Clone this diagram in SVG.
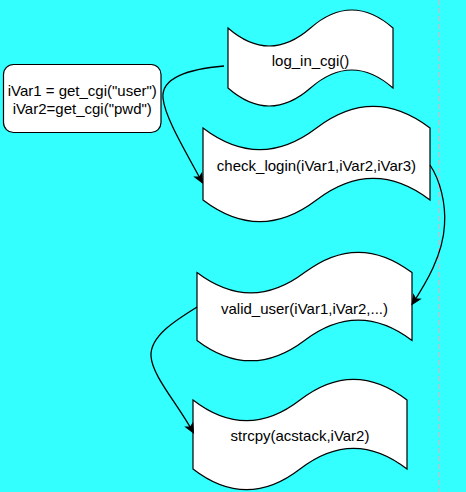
<svg xmlns="http://www.w3.org/2000/svg" width="466" height="492" viewBox="0 0 466 492">
<defs>
<marker id="arr" markerUnits="userSpaceOnUse" markerWidth="10" markerHeight="9" refX="9" refY="4" orient="auto" overflow="visible">
<path d="M0,0 L9,4 L0,8 L2.25,4 Z" fill="#000" stroke="#000" stroke-width="1"/>
</marker>
<style>
.tape{fill:#fff;stroke:#000;stroke-width:1.2;}
.box{fill:#fff;stroke:#000;stroke-width:1.2;}
.lbl{font-family:"Liberation Sans",Arial,sans-serif;font-size:15px;fill:#000;text-anchor:middle;}
.edge{fill:none;stroke:#000;stroke-width:1.3;marker-end:url(#arr);}
</style>
</defs>
<rect x="0" y="0" width="466" height="492" fill="#33ffff"/>
<line x1="438.5" y1="0" x2="438.5" y2="492" stroke="#f0a8b8" stroke-width="1" stroke-dasharray="5 3"/>
<g id="node-login">
<path class="tape" d="M228,28 Q269.25,64 310.5,28 Q351.75,-8 393,28 L393,88 Q351.75,52 310.5,88 Q269.25,124 228,88 Z"/>
<text class="lbl" x="310.5" y="65.5">log_in_cgi()</text>
</g>
<g id="node-vars">
<rect class="box" x="3.5" y="64.5" width="157.5" height="68" rx="10" ry="10"/>
<text class="lbl" x="82.25" y="95.5">iVar1 = get_cgi("user")</text>
<text class="lbl" x="82.25" y="113.7">iVar2=get_cgi("pwd")</text>
</g>
<g id="node-check">
<path class="tape" d="M203,128 Q259.75,171.2 316.5,128 Q373.25,84.8 430,128 L430,200 Q373.25,156.8 316.5,200 Q259.75,243.2 203,200 Z"/>
<text class="lbl" x="316.5" y="170.5">check_login(iVar1,iVar2,iVar3)</text>
</g>
<g id="node-valid">
<path class="tape" d="M197,272.6 Q250.75,313.28 304.5,272.6 Q358.25,231.92 412,272.6 L412,340.4 Q358.25,299.72 304.5,340.4 Q250.75,381.08 197,340.4 Z"/>
<text class="lbl" x="304.5" y="313.5">valid_user(iVar1,iVar2,...)</text>
</g>
<g id="node-strcpy">
<path class="tape" d="M193,400 Q246.5,441.4 300,400 Q353.5,358.6 407,400 L407,469 Q353.5,427.6 300,469 Q246.5,510.4 193,469 Z"/>
<text class="lbl" x="300" y="440.5">strcpy(acstack,iVar2)</text>
</g>
<g id="connectors">
<path class="edge" d="M224,66 C188,69 161,78 163,98 C165,118 186,152 202.5,183"/>
<path class="edge" d="M430,165 C440,180 446,203 444.5,225 C443,255 426,283 412,304.5"/>
<path class="edge" d="M197,307 C176,320 150,336 151,356 C152,376 178,404 193.5,433"/>
</g>
</svg>
